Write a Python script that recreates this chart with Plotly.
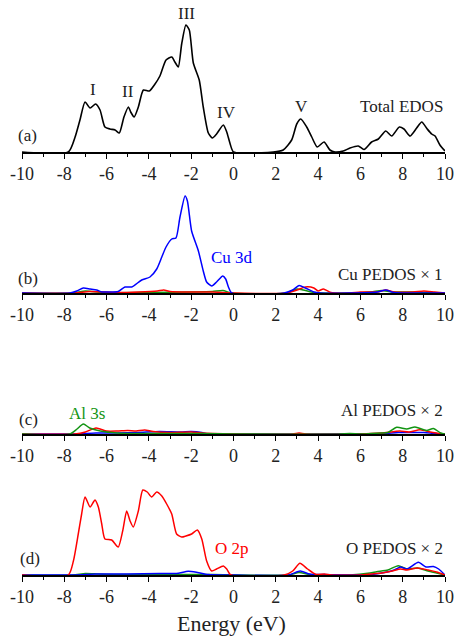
import plotly.graph_objects as go

# ---------------- data ----------------
tick_vals = [-10, -8, -6, -4, -2, 0, 2, 4, 6, 8, 10]
tick_text = ["-10", "-8", "-6", "-4", "-2", "0", "2", "4", "6", "8", "10"]

# (a) Total EDOS
E_tot = [-10, -7.81, -7.49, -7.26, -7.02, -6.78, -6.52, -6.31, -6.08, -5.84, -5.6, -5.4, -5.18, -4.97,
         -4.86, -4.7, -4.5, -4.26, -3.98, -3.71, -3.48, -3.19, -2.92, -2.77, -2.61, -2.45, -2.25, -2.09,
         -1.9, -1.62, -1.43, -1.19, -1.0, -0.8, -0.48, -0.32, -0.17, 0.0, 1.88, 2.35, 2.75, 2.99, 3.18,
         3.46, 3.7, 3.96, 4.28, 4.56, 4.8, 5.19, 5.51, 5.9, 6.17, 6.53, 6.85, 7.2, 7.48, 7.84, 8.06, 8.35,
         8.66, 8.9, 9.16, 9.37, 9.53, 9.76, 10.0]
D_tot = [0, 0, 1.5, 3.2, 5.0, 4.4, 4.8, 4.2, 2.5, 2.3, 2.2, 1.9, 3.5, 4.5,
         4.0, 3.5, 4.5, 6.2, 6.1, 6.8, 7.6, 9.2, 9.5, 9.0, 8.5, 10.8, 12.7, 12.2,
         8.9, 7.2, 4.5, 1.9, 1.4, 1.8, 2.7, 2.0, 0.9, 0, 0, 0.2, 1.2, 2.8, 3.3,
         2.5, 1.5, 0.5, 1.0, 0.2, 0, 0.1, 0.4, 0.6, 0.25, 1.0, 1.3, 2.1, 1.6, 2.5, 2.3, 1.6,
         2.4, 3.0, 2.3, 1.8, 1.6, 0.7, 0.1]

# (b) Cu PEDOS x 1
E_cu_d = [-10, -7.73, -7.41, -7.1, -6.78, -6.47, -6.23, -5.92, -5.45, -5.13, -4.81, -4.34, -3.95, -3.63,
          -3.39, -3.19, -2.92, -2.72, -2.53, -2.29, -2.18, -1.98, -1.66, -1.43, -1.27, -1.03, -0.8, -0.51,
          -0.37, -0.24, -0.09, 2.4, 2.8, 3.1, 3.4, 3.8, 4.1, 5.5, 6.8, 7.2, 7.6, 10]
Cu_d = [0, 0, 0.2, 0.5, 0.4, 0.3, 0.1, 0.1, 0.15, 0.6, 0.6, 1.3, 1.6, 2.4,
        3.6, 4.6, 5.4, 5.5, 7.6, 9.7, 9.2, 6.2, 4.2, 2.2, 1.1, 0.7, 1.1, 1.7,
        1.4, 0.6, 0, 0, 0.3, 0.75, 0.5, 0.1, 0, 0, 0.1, 0.3, 0.05, 0]
E_cu_r = [-10, -7.5, -6.8, -5.5, -4.5, -3.6, -3.3, -3.0, -2.0, -1.0, 0.0, 2.5, 3.0, 3.4, 3.8, 4.0, 4.25,
          4.6, 5.5, 6.0, 6.8, 7.2, 7.6, 8.5, 9.0, 9.5, 10]
Cu_r = [0, 0, 0.15, 0.05, 0.1, 0.2, 0.3, 0.15, 0.1, 0.1, 0, 0, 0.3, 0.6, 0.5, 0.2, 0.4,
        0.05, 0, 0.1, 0.1, 0.3, 0.1, 0.1, 0.2, 0.1, 0]
E_cu_g = [-10, -7.6, -7.0, -6.2, -4.0, -2.0, -1.0, -0.5, -0.1, 2.5, 3.0, 3.3, 3.8, 5.5, 6.5, 7.0, 7.5, 8.5, 10]
Cu_g = [0, 0, 0.2, 0.05, 0.05, 0.1, 0.15, 0.25, 0, 0, 0.4, 0.3, 0.05, 0, 0.1, 0.25, 0.1, 0.1, 0]

# (c) Al PEDOS x 2
E_al_g = [-10, -7.73, -7.4, -7.1, -6.8, -6.3, -5.5, -4.5, -3.0, -1.5, 0, 5.0, 5.5, 6.0, 6.5, 7.0, 7.3,
          7.72, 8.19, 8.58, 9.13, 9.45, 9.8, 10]
Al_g = [0, 0, 0.5, 1.0, 0.6, 0.3, 0.1, 0.05, 0.05, 0.05, 0, 0, 0.05, 0.0, 0.05, 0.1, 0.15,
        0.67, 0.5, 0.7, 0.35, 0.55, 0.1, 0]
E_al_r = [-10, -7.5, -7.0, -6.5, -6.0, -5.5, -5.0, -4.6, -4.2, -3.8, -3.0, -2.0, -1.5, -1.0, 0, 2.8, 3.1,
          3.4, 6.0, 7.0, 7.87, 8.3, 8.82, 9.3, 9.6, 10]
Al_r = [0, 0, 0.2, 0.6, 0.3, 0.3, 0.35, 0.3, 0.4, 0.25, 0.15, 0.2, 0.1, 0.05, 0, 0, 0.1,
        0, 0, 0.1, 0.3, 0.2, 0.43, 0.2, 0.1, 0]
E_al_b = [-10, -7.5, -6.5, -5.5, -4.5, -3.5, -2.5, -2.0, -1.5, -1.2, 0, 7.0, 7.8, 8.5, 9.0, 9.5, 10]
Al_b = [0, 0, 0.1, 0.1, 0.15, 0.25, 0.2, 0.25, 0.15, 0, 0, 0.05, 0.15, 0.15, 0.15, 0.05, 0]

# (d) O PEDOS x 2
E_o_r = [-10, -7.81, -7.57, -7.34, -7.18, -7.02, -6.78, -6.55, -6.39, -6.23, -6.08, -5.76, -5.45, -5.24,
         -5.05, -4.89, -4.74, -4.5, -4.29, -4.08, -3.87, -3.63, -3.39, -3.16, -2.92, -2.69, -2.45, -2.25,
         -1.98, -1.71, -1.5, -1.27, -1.03, -0.8, -0.48, -0.32, -0.13, 2.4, 2.8, 3.14, 3.5, 3.9, 4.3, 4.6,
         6.0, 6.5, 7.0, 7.5, 7.9, 8.2, 8.7, 9.2, 9.6, 10]
O_r = [0, 0, 1.4, 4.1, 6.1, 7.8, 6.8, 7.5, 6.8, 5.1, 3.6, 3.5, 2.8, 4.4,
       6.4, 5.4, 4.8, 6.4, 8.5, 8.3, 7.8, 8.3, 7.9, 7.1, 6.1, 4.1, 3.8, 3.9,
       4.1, 4.5, 3.6, 1.4, 0.4, 0.6, 0.9, 0.6, 0, 0, 0.4, 1.17, 0.6, 0.05, 0.1, 0,
       0, 0.1, 0.2, 0.4, 0.6, 0.5, 0.7, 0.5, 0.3, 0]
E_o_b = [-10, -7.5, -6.5, -5.0, -3.5, -2.7, -2.14, -1.7, -1.2, 0, 2.6, 3.15, 3.6, 4.2, 6.5, 7.0, 7.6, 7.9,
         8.2, 8.74, 9.1, 9.45, 9.7, 10]
O_b = [0, 0, 0.1, 0.1, 0.15, 0.15, 0.37, 0.25, 0.05, 0, 0, 0.4, 0.1, 0.05, 0.05, 0.2, 0.5, 0.8,
       0.6, 1.27, 0.8, 0.85, 0.6, 0]
E_o_g = [-10, -7.6, -7.0, -6.4, -5.5, -3.0, -2.0, -1.0, 0, 2.6, 3.1, 3.6, 5.5, 6.45, 6.77, 7.3, 7.79, 8.2,
         8.7, 9.2, 9.6, 10]
O_g = [0, 0, 0.15, 0.1, 0.05, 0.05, 0.05, 0.05, 0, 0, 0.25, 0.05, 0, 0.2, 0.33, 0.5, 0.93, 0.6,
       0.7, 0.4, 0.2, 0]

# ---------------- styling ----------------
W, H = 455, 638
FONT = "Liberation Serif"
TXT = "#222222"
BLUE, RED, GREEN, BLACK = "#0000ff", "#ff0000", "#129412", "#000000"
bottoms = [152, 293, 434, 575]   # pixel y of each panel baseline
PANEL_H = 140
YMAX = 14.0

fig = go.Figure()

def add(E, D, color, k, width=1.5):
    fig.add_trace(go.Scatter(x=E, y=D, mode="lines",
                             line=dict(color=color, width=width, shape="spline", smoothing=0.6),
                             xaxis="x" if k == 1 else f"x{k}", yaxis="y" if k == 1 else f"y{k}",
                             showlegend=False, hoverinfo="skip"))

add(E_tot, D_tot, BLACK, 1, 1.6)
add(E_cu_g, Cu_g, GREEN, 2)
add(E_cu_r, Cu_r, RED, 2)
add(E_cu_d, Cu_d, BLUE, 2)
add(E_al_b, Al_b, BLUE, 3)
add(E_al_r, Al_r, RED, 3)
add(E_al_g, Al_g, GREEN, 3)
add(E_o_g, O_g, GREEN, 4)
add(E_o_b, O_b, BLUE, 4)
add(E_o_r, O_r, RED, 4)

layout = dict(width=W, height=H, margin=dict(l=22, r=10, t=0, b=0),
              paper_bgcolor="white", plot_bgcolor="rgba(0,0,0,0)", template="none",
              showlegend=False)

for i, B in enumerate(bottoms, start=1):
    sx = "" if i == 1 else str(i)
    layout[f"xaxis{sx}"] = dict(
        range=[-10, 10], tickmode="array", tickvals=tick_vals, ticktext=tick_text,
        ticks="outside", ticklen=5, tickwidth=1.2, tickcolor="black",
        showline=True, linecolor="black", linewidth=1.5, showgrid=False, zeroline=False,
        tickfont=dict(family=FONT, size=18, color=TXT),
        minor=dict(dtick=1, tick0=-10, ticks="outside", ticklen=3, tickwidth=1, tickcolor="black", showgrid=False),
        anchor=f"y{sx}", automargin=False, fixedrange=True)
    layout[f"yaxis{sx}"] = dict(
        domain=[1 - B / H, 1 - (B - PANEL_H) / H], range=[0, YMAX], visible=False,
        anchor=f"x{sx}", fixedrange=True)

fig.update_layout(**layout)

def ann(text, x, y, k, color=TXT, xanchor="center", size=17):
    sx = "" if k == 1 else str(k)
    fig.add_annotation(text=text, x=x, y=y, xref=f"x{sx}", yref=f"y{sx}", showarrow=False,
                       xanchor=xanchor, yanchor="middle",
                       font=dict(family=FONT, size=size, color=color))

# panel (a)
ann("(a)", -9.75, 1.7, 1)
ann("I", -6.66, 6.2, 1)
ann("II", -5.0, 6.0, 1)
ann("III", -2.21, 13.8, 1)
ann("IV", -0.32, 3.9, 1)
ann("V", 3.22, 4.5, 1)
ann("Total EDOS", 10, 4.5, 1, xanchor="right")
# panel (b)
ann("(b)", -9.73, 1.5, 2)
ann("Cu 3d", -0.05, 3.6, 2, color=BLUE)
ann("Cu PEDOS × 1", 10, 1.9, 2, xanchor="right")
# panel (c)
ann("(c)", -9.7, 1.5, 3)
ann("Al 3s", -6.94, 2.1, 3, color=GREEN)
ann("Al PEDOS × 2", 10, 2.4, 3, xanchor="right")
# panel (d)
ann("(d)", -9.62, 1.7, 4)
ann("O 2p", -0.09, 2.7, 4, color=RED)
ann("O PEDOS × 2", 10, 2.7, 4, xanchor="right")

fig.add_annotation(text="Energy (eV)", x=0.495, y=1 - 623 / H, xref="paper", yref="paper",
                   showarrow=False, xanchor="center", yanchor="middle",
                   font=dict(family=FONT, size=22, color=TXT))

fig.write_html("out.html")
